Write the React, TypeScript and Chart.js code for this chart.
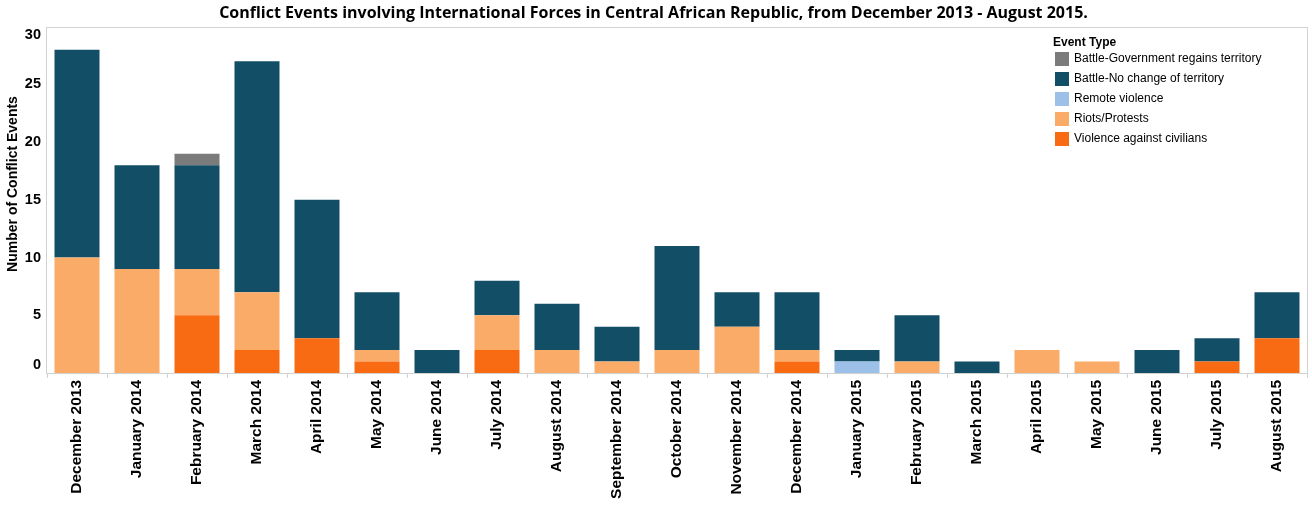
import React, { useEffect, useRef } from 'react';
import { Chart, registerables } from 'chart.js';

Chart.register(...registerables);

const months = [
  'December 2013', 'January 2014', 'February 2014', 'March 2014', 'April 2014', 'May 2014',
  'June 2014', 'July 2014', 'August 2014', 'September 2014', 'October 2014', 'November 2014',
  'December 2014', 'January 2015', 'February 2015', 'March 2015', 'April 2015', 'May 2015',
  'June 2015', 'July 2015', 'August 2015',
];

const violenceAgainstCivilians = [0, 0, 5, 2, 3, 1, 0, 2, 0, 0, 0, 0, 1, 0, 0, 0, 0, 0, 0, 1, 3];
const riotsProtests = [10, 9, 4, 5, 0, 1, 0, 3, 2, 1, 2, 4, 1, 0, 1, 0, 2, 1, 0, 0, 0];
const remoteViolence = [0, 0, 0, 0, 0, 0, 0, 0, 0, 0, 0, 0, 0, 1, 0, 0, 0, 0, 0, 0, 0];
const battleNoChange = [18, 9, 9, 20, 12, 5, 2, 3, 4, 3, 9, 3, 5, 1, 4, 1, 0, 0, 2, 2, 4];
const battleGovRegains = [0, 0, 1, 0, 0, 0, 0, 0, 0, 0, 0, 0, 0, 0, 0, 0, 0, 0, 0, 0, 0];

const yTicks = [0, 5, 10, 15, 20, 25, 30];

const titleText = 'Conflict Events involving International Forces in Central African Republic, from December 2013 - August 2015.';
const yTitle = 'Number of Conflict Events';
const legendTitle = 'Event Type';

// bottom-to-top stacking order
const series = [
  { label: 'Violence against civilians', data: violenceAgainstCivilians, color: '#f96b12' },
  { label: 'Riots/Protests', data: riotsProtests, color: '#fbab68' },
  { label: 'Remote violence', data: remoteViolence, color: '#9cc0e8' },
  { label: 'Battle-No change of territory', data: battleNoChange, color: '#124f67' },
  { label: 'Battle-Government regains territory', data: battleGovRegains, color: '#7b7b7b' },
];

const FONT = "'Liberation Sans', Arial, sans-serif";

const customPlugin = {
  id: 'customDecor',
  beforeDatasetsDraw(chart: any) {
    const { ctx, chartArea } = chart;
    ctx.save();
    ctx.strokeStyle = '#d2d2d2';
    ctx.lineWidth = 1;
    ctx.strokeRect(
      Math.round(chartArea.left) - 0.5,
      Math.round(chartArea.top) + 0.5,
      Math.round(chartArea.right - chartArea.left) + 1,
      Math.round(chartArea.bottom - chartArea.top)
    );
    ctx.restore();
  },
  afterDraw(chart: any) {
    const { ctx, chartArea } = chart;
    const y = chart.scales.y;
    ctx.save();
    ctx.fillStyle = '#000';
    ctx.font = `bold 14.5px ${FONT}`;
    ctx.textAlign = 'right';
    ctx.textBaseline = 'middle';
    for (const v of yTicks) {
      let py = y.getPixelForValue(v);
      py = Math.min(Math.max(py, chartArea.top + 8.5), chartArea.bottom - 8);
      ctx.fillText(String(v), chartArea.left - 6, py);
    }
    ctx.save();
    ctx.translate(13, 184);
    ctx.rotate(-Math.PI / 2);
    ctx.textAlign = 'center';
    ctx.textBaseline = 'middle';
    ctx.font = `bold 14px ${FONT}`;
    ctx.fillText(yTitle, 0, 0);
    ctx.restore();

    const lx = 1053;
    ctx.textAlign = 'left';
    ctx.textBaseline = 'middle';
    ctx.font = `bold 12px ${FONT}`;
    ctx.fillStyle = '#000';
    ctx.fillText(legendTitle, lx, 43);
    ctx.font = `12px ${FONT}`;
    const entries = [...series].reverse();
    entries.forEach((s, i) => {
      const cy = 59 + i * 20;
      ctx.fillStyle = s.color;
      ctx.fillRect(lx + 2, cy - 7, 14, 14);
      ctx.fillStyle = '#000';
      ctx.fillText(s.label, lx + 21, cy);
    });
    ctx.restore();
  },
};

export default function App() {
  const canvasRef = useRef<HTMLCanvasElement | null>(null);

  useEffect(() => {
    if (!canvasRef.current) return;
    const chart = new Chart(canvasRef.current, {
      type: 'bar',
      data: {
        labels: months,
        datasets: series.map((s) => ({
          label: s.label,
          data: s.data,
          backgroundColor: s.color,
          borderWidth: 0,
          barPercentage: 0.75,
          categoryPercentage: 1.0,
        })),
      },
      options: {
        responsive: false,
        animation: false,
        devicePixelRatio: 1,
        layout: { padding: { left: 0, right: 5, top: 0, bottom: 0 } },
        plugins: {
          legend: { display: false },
          tooltip: { enabled: false },
          title: {
            display: true,
            text: titleText,
            color: '#000',
            font: { family: "'Open Sans', sans-serif", size: 16, weight: 'bold', lineHeight: 1.2 },
            padding: { top: 3.5, bottom: 4 },
          },
        },
        scales: {
          x: {
            stacked: true,
            offset: true,
            border: { display: false },
            grid: {
              offset: true,
              drawOnChartArea: false,
              drawTicks: true,
              tickLength: 5,
              color: '#d2d2d2',
            },
            ticks: {
              autoSkip: false,
              minRotation: 90,
              maxRotation: 90,
              color: '#000',
              padding: 2,
              font: { family: FONT, size: 15.5, weight: 'bold' },
            },
            afterFit: (scale: any) => {
              scale.height = 143;
              scale.paddingLeft = 0;
              scale.paddingRight = 0;
            },
          },
          y: {
            stacked: true,
            min: 0,
            max: 30,
            border: { display: false },
            grid: { display: false },
            ticks: { display: false, stepSize: 5 },
            afterFit: (scale: any) => {
              scale.width = 47;
              scale.paddingTop = 0;
              scale.paddingBottom = 0;
            },
          },
        },
      } as any,
      plugins: [customPlugin],
    });
    return () => chart.destroy();
  }, []);

  return (
    <div style={{ position: 'absolute', left: 0, top: 0, width: 1312, height: 516, background: '#fff' }}>
      <canvas ref={canvasRef} width={1312} height={516} style={{ display: 'block' }} />
    </div>
  );
}
